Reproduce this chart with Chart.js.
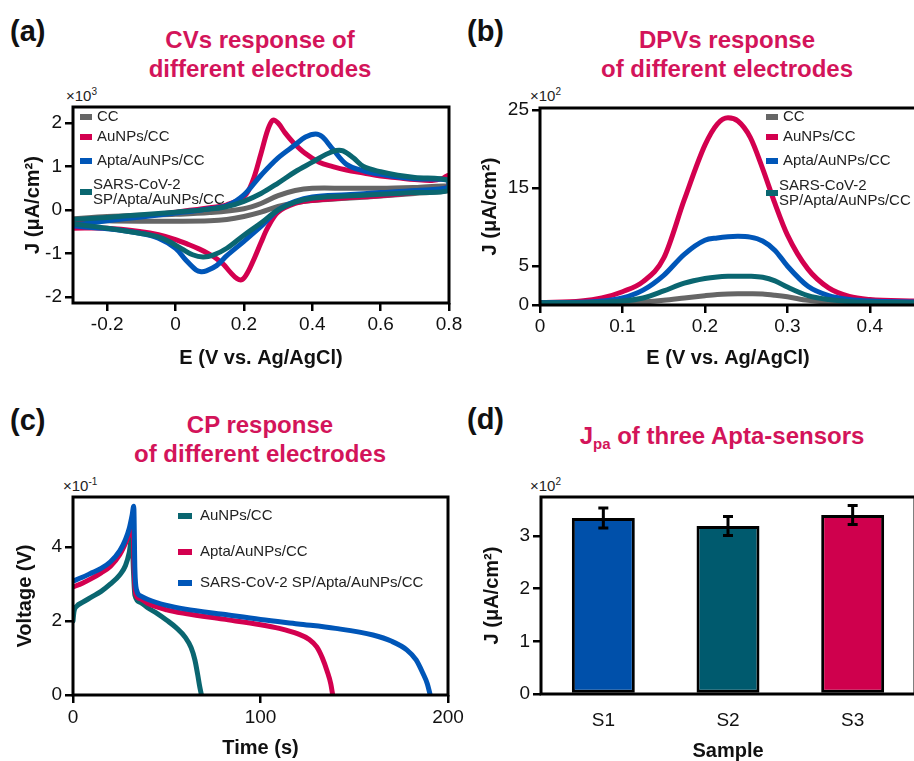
<!DOCTYPE html>
<html>
<head>
<meta charset="utf-8">
<script src="https://cdn.jsdelivr.net/npm/chart.js@4.4.1/dist/chart.umd.min.js"></script>
<style>
  html, body { margin: 0; padding: 0; background: #fff; overflow: hidden; width: 914px; height: 761px; }
  body { position: relative; font-family: "Liberation Sans", Arial, sans-serif; }
  canvas { position: absolute; }
  .panel { position: absolute; font-weight: bold; font-size: 29px; line-height: 1; color: #111; }
  .title { position: absolute; font-weight: bold; font-size: 24px; line-height: 29px; color: #D3145A;
           text-align: center; white-space: nowrap; transform: translateX(-50%); }
  .title sub { font-size: 15px; vertical-align: -5px; line-height: 0; }
  .mult { position: absolute; font-size: 15px; line-height: 1; color: #222; }
  .mult sup { font-size: 10px; vertical-align: 6px; line-height: 0; }
</style>
</head>
<body>
<div class="panel" style="left:10px;top:17px">(a)</div>
<div class="panel" style="left:467px;top:17px">(b)</div>
<div class="panel" style="left:10px;top:406px">(c)</div>
<div class="panel" style="left:467px;top:405px">(d)</div>

<div class="title" style="left:260px;top:25px">CVs response of<br>different electrodes</div>
<div class="title" style="left:727px;top:25px">DPVs response<br>of different electrodes</div>
<div class="title" style="left:260px;top:410px">CP response<br>of different electrodes</div>
<div class="title" style="left:722px;top:421px">J<sub>pa</sub> of three Apta-sensors</div>

<div class="mult" style="left:66px;top:88px">×10<sup>3</sup></div>
<div class="mult" style="left:530px;top:88px">×10<sup>2</sup></div>
<div class="mult" style="left:63px;top:478px">×10<sup>-1</sup></div>
<div class="mult" style="left:530px;top:478px">×10<sup>2</sup></div>

<canvas id="cvChart" width="470" height="380" style="left:0;top:0"></canvas>
<canvas id="dpvChart" width="470" height="380" style="left:460px;top:0"></canvas>
<canvas id="cpChart" width="470" height="381" style="left:0;top:380px"></canvas>
<canvas id="barChart" width="470" height="381" style="left:460px;top:380px"></canvas>

<script>
// (a) CV loops: forward sweep then reverse sweep, J in x10^3 uA/cm2
const cvLabels = ["CC", "AuNPs/CC", "Apta/AuNPs/CC", "SARS-CoV-2 SP/Apta/AuNPs/CC"];
const cvE_CC = [-0.3,-0.2,-0.1,0,0.1,0.2,0.25,0.3,0.35,0.4,0.5,0.6,0.7,0.8, 0.8,0.7,0.6,0.5,0.4,0.35,0.3,0.25,0.2,0.15,0.1,0,-0.1,-0.2,-0.3];
const cvJ_CC = [-0.2,-0.15,-0.12,-0.1,-0.06,0.03,0.15,0.33,0.45,0.5,0.5,0.5,0.52,0.55, 0.45,0.38,0.32,0.27,0.22,0.17,0.08,-0.05,-0.15,-0.22,-0.25,-0.26,-0.26,-0.25,-0.22];
const cvE_Au = [-0.3,-0.2,-0.1,0,0.1,0.15,0.2,0.225,0.25,0.27,0.285,0.3,0.32,0.345,0.38,0.42,0.46,0.5,0.55,0.6,0.65,0.7,0.75,0.78,0.8, 0.8,0.75,0.7,0.6,0.5,0.4,0.35,0.3,0.27,0.25,0.23,0.21,0.195,0.18,0.16,0.14,0.12,0.1,0.07,0.04,0,-0.05,-0.1,-0.2,-0.3];
const cvJ_Au = [-0.3,-0.22,-0.14,-0.05,0.05,0.12,0.3,0.65,1.3,1.85,2.07,2.0,1.78,1.55,1.3,1.1,1.0,0.92,0.85,0.78,0.74,0.7,0.68,0.72,0.8, 0.55,0.45,0.4,0.33,0.28,0.22,0.15,-0.05,-0.4,-0.75,-1.12,-1.45,-1.6,-1.58,-1.43,-1.25,-1.12,-1.02,-0.9,-0.8,-0.68,-0.57,-0.5,-0.42,-0.42];
const cvE_Apta = [-0.3,-0.2,-0.1,0,0.1,0.15,0.2,0.25,0.3,0.35,0.38,0.41,0.43,0.46,0.5,0.55,0.6,0.65,0.7,0.8, 0.8,0.7,0.6,0.5,0.4,0.35,0.3,0.25,0.2,0.15,0.12,0.09,0.075,0.06,0.03,0,-0.05,-0.1,-0.2,-0.3];
const cvJ_Apta = [-0.35,-0.25,-0.16,-0.07,0.03,0.1,0.35,0.8,1.2,1.5,1.68,1.75,1.68,1.4,1.05,0.9,0.82,0.76,0.72,0.68, 0.52,0.45,0.4,0.35,0.3,0.2,0.0,-0.38,-0.72,-1.05,-1.28,-1.4,-1.42,-1.38,-1.15,-0.88,-0.65,-0.54,-0.43,-0.37];
const cvE_Sars = [-0.3,-0.2,-0.1,0,0.1,0.15,0.2,0.25,0.3,0.35,0.4,0.44,0.47,0.49,0.52,0.55,0.6,0.65,0.7,0.8, 0.8,0.7,0.6,0.5,0.4,0.35,0.3,0.25,0.2,0.15,0.11,0.08,0.05,0.02,-0.02,-0.05,-0.1,-0.2,-0.3];
const cvJ_Sars = [-0.22,-0.17,-0.11,-0.05,0.02,0.08,0.2,0.38,0.62,0.88,1.1,1.28,1.37,1.36,1.2,1.0,0.88,0.8,0.75,0.68, 0.45,0.4,0.36,0.32,0.27,0.18,0.0,-0.3,-0.58,-0.88,-1.04,-1.08,-1.03,-0.9,-0.72,-0.62,-0.54,-0.42,-0.32];
const cvXTicks = [-0.2, 0, 0.2, 0.4, 0.6, 0.8];
const cvYTicks = [-2, -1, 0, 1, 2];

// (b) DPV, J in x10^2 uA/cm2
const dpvE = [0,0.05,0.075,0.1,0.125,0.15,0.175,0.2,0.215,0.228,0.24,0.255,0.27,0.285,0.3,0.325,0.35,0.375,0.4,0.456];
const dpvJ_CC = [0.2,0.2,0.22,0.3,0.4,0.6,0.9,1.2,1.35,1.42,1.45,1.44,1.4,1.25,1.05,0.6,0.35,0.25,0.2,0.2];
const dpvJ_Au = [0.3,0.5,0.9,1.7,3.0,6.0,13.5,20.5,23.2,24.0,23.6,21.5,17.5,13.0,9.0,4.6,2.2,1.1,0.7,0.5];
const dpvJ_Apta = [0.3,0.35,0.5,0.9,1.9,3.8,6.5,8.3,8.6,8.75,8.8,8.7,8.2,7.0,5.0,2.4,1.2,0.7,0.5,0.4];
const dpvJ_Sars = [0.3,0.3,0.35,0.5,0.9,1.8,2.8,3.4,3.6,3.68,3.7,3.68,3.55,3.1,2.3,1.2,0.7,0.45,0.35,0.3];
const dpvXTicks = [0, 0.1, 0.2, 0.3, 0.4];
const dpvYTicks = [0, 5, 15, 25];

// (c) CP, voltage in x10^-1 V
const cpLabels = ["AuNPs/CC", "Apta/AuNPs/CC", "SARS-CoV-2 SP/Apta/AuNPs/CC"];
const cpT_Au = [0,0.5,2,5,10,15,20,25,28,30,31.5,32.2,33,36,40,45,50,55,60,63,65,66.5,67.5,68.5];
const cpV_Au = [2.0,2.25,2.4,2.5,2.65,2.8,3.0,3.25,3.5,3.85,4.3,3.4,2.7,2.5,2.35,2.2,2.02,1.82,1.55,1.28,0.95,0.55,0.25,0];
const cpT_Apta = [0,5,10,15,20,25,28,30,31.5,32,32.6,33.5,36,40,50,60,80,100,110,120,126,130,133,135.5,137.5,138.5];
const cpV_Apta = [2.92,3.02,3.15,3.3,3.48,3.8,4.1,4.35,4.6,4.65,3.4,2.72,2.6,2.47,2.3,2.2,2.05,1.9,1.8,1.65,1.5,1.3,1.0,0.65,0.3,0];
const cpT_Sars = [0,5,10,15,20,25,28,30,31.5,32.4,33,34,36,40,50,60,80,100,120,140,160,170,178,183,186.5,189,190.5];
const cpV_Sars = [3.08,3.18,3.3,3.42,3.6,3.9,4.2,4.5,4.85,5.1,3.4,2.82,2.68,2.58,2.42,2.32,2.18,2.04,1.92,1.8,1.62,1.45,1.22,0.95,0.6,0.3,0];
const cpXTicks = [0, 100, 200];
const cpYTicks = [0, 2, 4];

// (d) Jpa bars, x10^2 uA/cm2
const barLabels = ["S1", "S2", "S3"];
const barValues = [3.34, 3.19, 3.40];
const barErrors = [0.19, 0.18, 0.18];
const barYTicks = [0, 1, 2, 3];

const GRAY = "#666666", RED = "#D3004F", BLUE = "#0056B8", TEAL = "#0A6670";

Chart.defaults.font.family = '"Liberation Sans", Arial, sans-serif';
Chart.defaults.color = "#111";

function toPoints(xs, ys) {
  return xs.map((x, i) => ({ x: x, y: ys[i] }));
}

function axis(ticks, min, max, size, isY, title, titlePad, tickPad) {
  return {
    type: "linear",
    min: min,
    max: max,
    afterBuildTicks: (s) => { s.ticks = ticks.map((v) => ({ value: v })); },
    afterFit: (s) => { if (isY) s.width = size; else s.height = size; },
    grid: { drawOnChartArea: false, color: "#000", lineWidth: 2.5, tickLength: 8 },
    border: { display: false },
    ticks: { color: "#111", font: { size: 19 }, padding: tickPad, maxRotation: 0, autoSkip: false,
             callback: (v) => String(v) },
    title: { display: true, text: title, color: "#111", font: { size: 20, weight: "bold" }, padding: titlePad },
  };
}

function line(label, pts, color, order, mode) {
  return {
    label: label, data: pts, showLine: true, borderColor: color, borderWidth: 5,
    pointRadius: 0, order: order, fill: false,
    tension: mode ? 0 : 0.35, cubicInterpolationMode: mode || "default",
    borderCapStyle: "round", borderJoinStyle: "round",
  };
}

const frame = {
  id: "frame",
  afterDatasetsDraw(chart) {
    const { ctx, chartArea: a } = chart;
    ctx.save();
    ctx.strokeStyle = "#000";
    ctx.lineWidth = 3;
    ctx.strokeRect(a.left, a.top, a.right - a.left, a.bottom - a.top);
    ctx.restore();
  },
};

const boxLegend = {
  id: "boxLegend",
  afterDraw(chart, args, opts) {
    if (!opts.items) return;
    const { ctx, chartArea: a } = chart;
    ctx.save();
    ctx.font = '15px "Liberation Sans", Arial, sans-serif';
    ctx.textBaseline = "middle";
    opts.items.forEach((it) => {
      const y = a.top + it.y;
      ctx.fillStyle = it.color;
      ctx.fillRect(a.left + opts.x, y - 3, opts.w, 6);
      ctx.fillStyle = "#222";
      const lines = it.wrap ? it.text.split(" ") : [it.text];
      const tx = a.left + (it.wrap ? opts.tx - 4 : opts.tx);
      lines.forEach((t, k) => ctx.fillText(t, tx, y + (k - (lines.length - 1) / 2) * 15));
    });
    ctx.restore();
  },
};

const errorBars = {
  id: "errorBars",
  afterDatasetsDraw(chart) {
    const meta = chart.getDatasetMeta(0);
    const ys = chart.scales.y;
    const ctx = chart.ctx;
    ctx.save();
    ctx.strokeStyle = "#000";
    ctx.lineWidth = 3;
    meta.data.forEach((bar, i) => {
      const top = ys.getPixelForValue(barValues[i] + barErrors[i]);
      const bot = ys.getPixelForValue(barValues[i] - barErrors[i]);
      ctx.beginPath();
      ctx.moveTo(bar.x, top); ctx.lineTo(bar.x, bot);
      ctx.moveTo(bar.x - 5, top); ctx.lineTo(bar.x + 5, top);
      ctx.moveTo(bar.x - 5, bot); ctx.lineTo(bar.x + 5, bot);
      ctx.stroke();
    });
    ctx.restore();
  },
};

const baseOptions = (padding) => ({
  responsive: false,
  animation: false,
  devicePixelRatio: 1,
  layout: { padding: padding },
});

// (a) CVs
new Chart(document.getElementById("cvChart"), {
  type: "scatter",
  data: {
    datasets: [
      line(cvLabels[0], toPoints(cvE_CC, cvJ_CC), GRAY, 4),
      line(cvLabels[1], toPoints(cvE_Au, cvJ_Au), RED, 3),
      line(cvLabels[2], toPoints(cvE_Apta, cvJ_Apta), BLUE, 2),
      line(cvLabels[3], toPoints(cvE_Sars, cvJ_Sars), TEAL, 1),
    ],
  },
  options: {
    ...baseOptions({ top: 107, right: 21, left: 0, bottom: 0 }),
    scales: {
      x: axis(cvXTicks, -0.3, 0.8, 77, false, "E (V vs. Ag/AgCl)", { top: 0, bottom: 10 }, 2),
      y: axis(cvYTicks, -2.14, 2.37, 73, true, "J (μA/cm²)", { top: 21, bottom: 0 }, 3),
    },
    plugins: {
      legend: { display: false },
      tooltip: { enabled: false },
      boxLegend: {
        x: 7, w: 12, tx: 24,
        items: [
          { text: cvLabels[0], color: GRAY, y: 10 },
          { text: cvLabels[1], color: RED, y: 30 },
          { text: cvLabels[2], color: BLUE, y: 54 },
          { text: cvLabels[3], color: TEAL, y: 85, wrap: true },
        ],
      },
    },
  },
  plugins: [frame, boxLegend],
});

// (b) DPVs
new Chart(document.getElementById("dpvChart"), {
  type: "scatter",
  data: {
    datasets: [
      line(cvLabels[0], toPoints(dpvE, dpvJ_CC), GRAY, 4, "monotone"),
      line(cvLabels[1], toPoints(dpvE, dpvJ_Au), RED, 3, "monotone"),
      line(cvLabels[2], toPoints(dpvE, dpvJ_Apta), BLUE, 2, "monotone"),
      line(cvLabels[3], toPoints(dpvE, dpvJ_Sars), TEAL, 1, "monotone"),
    ],
  },
  options: {
    ...baseOptions({ top: 108, right: 14, left: 0, bottom: 0 }),
    scales: {
      x: axis(dpvXTicks, 0, 0.456, 75, false, "E (V vs. Ag/AgCl)", { top: 0, bottom: 10 }, 2),
      y: axis(dpvYTicks, 0, 25.26, 80, true, "J (μA/cm²)", { top: 18, bottom: 0 }, 3),
    },
    plugins: {
      legend: { display: false },
      tooltip: { enabled: false },
      boxLegend: {
        x: 226, w: 12, tx: 243,
        items: [
          { text: cvLabels[0], color: GRAY, y: 9 },
          { text: cvLabels[1], color: RED, y: 29 },
          { text: cvLabels[2], color: BLUE, y: 53 },
          { text: cvLabels[3], color: TEAL, y: 85, wrap: true },
        ],
      },
    },
  },
  plugins: [frame, boxLegend],
});

// (c) CP
new Chart(document.getElementById("cpChart"), {
  type: "scatter",
  data: {
    datasets: [
      line(cpLabels[0], toPoints(cpT_Au, cpV_Au), TEAL, 3, "monotone"),
      line(cpLabels[1], toPoints(cpT_Apta, cpV_Apta), RED, 2, "monotone"),
      line(cpLabels[2], toPoints(cpT_Sars, cpV_Sars), BLUE, 1, "monotone"),
    ],
  },
  options: {
    ...baseOptions({ top: 117, right: 22, left: 0, bottom: 0 }),
    scales: {
      x: axis(cpXTicks, 0, 200, 66, false, "Time (s)", { top: 0, bottom: 1 }, 3),
      y: axis(cpYTicks, 0, 5.35, 73, true, "Voltage (V)", { top: 13, bottom: 0 }, 3),
    },
    plugins: {
      legend: { display: false },
      tooltip: { enabled: false },
      boxLegend: {
        x: 105, w: 14, tx: 127,
        items: [
          { text: cpLabels[0], color: TEAL, y: 19 },
          { text: cpLabels[1], color: RED, y: 55 },
          { text: cpLabels[2], color: BLUE, y: 86 },
        ],
      },
    },
  },
  plugins: [frame, boxLegend],
});

// (d) Jpa bars
const barY = axis(barYTicks, 0, 3.74, 81, true, "J (μA/cm²)", { top: 20, bottom: 0 }, 3);
new Chart(document.getElementById("barChart"), {
  type: "bar",
  data: {
    labels: barLabels,
    datasets: [{
      label: "Jpa",
      data: barValues,
      backgroundColor: ["#0050AA", "#005A6E", "#CF004D"],
      borderColor: "#000",
      borderWidth: 3,
      borderSkipped: false,
      categoryPercentage: 1,
      barPercentage: 0.505,
    }],
  },
  options: {
    ...baseOptions({ top: 117, right: 15, left: 0, bottom: 0 }),
    scales: {
      x: {
        type: "category",
        afterFit: (s) => { s.height = 67; },
        grid: { display: false },
        border: { display: false },
        ticks: { color: "#111", font: { size: 19 }, padding: 7 },
        title: { display: true, text: "Sample", color: "#111",
                 font: { size: 20, weight: "bold", lineHeight: 1 }, padding: { top: 0, bottom: 0 } },
      },
      y: barY,
    },
    plugins: { legend: { display: false }, tooltip: { enabled: false } },
  },
  plugins: [frame, errorBars],
});
</script>
</body>
</html>
